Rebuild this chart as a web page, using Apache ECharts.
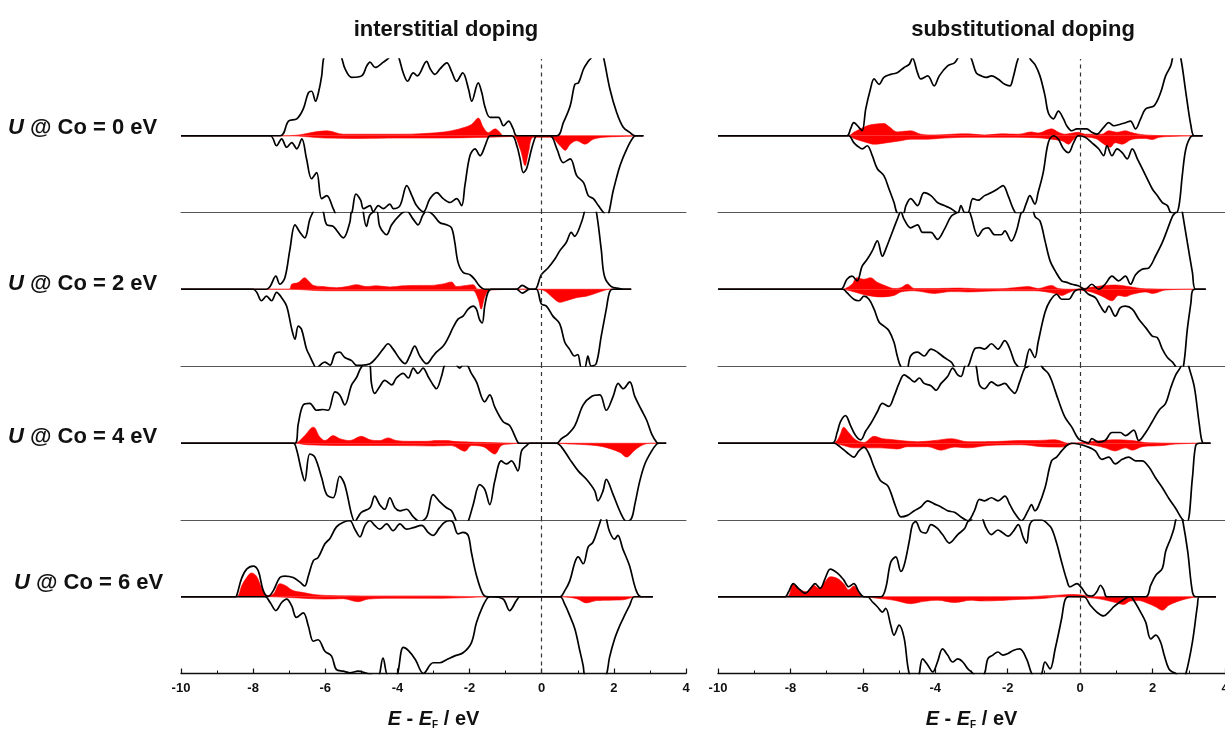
<!DOCTYPE html>
<html>
<head>
<meta charset="utf-8">
<title>DOS U@Co</title>
<script src="https://cdn.jsdelivr.net/npm/echarts@6/dist/echarts.min.js"></script>
<style>
  html, body { margin: 0; padding: 0; background: #fff; }
  #chart { width: 1225px; height: 735px; }
</style>
</head>
<body>
<div id="chart"></div>
<script>
// panel titles, row labels and x axis
var panelTitles = ['interstitial doping', 'substitutional doping'];
var uValues = ['0', '2', '4', '6'];
var xMin = -10, xMax = 4, xStep = 2;

// ---- interstitial doping: total DOS (up / down) and Co PDOS (up / down), [E, DOS] ----
var int0Up = [[-10,0],[-7.25,0],[-7.02,1.9],[-6.79,2.2],[-6.61,3.5],[-6.47,5.6],[-6.38,5.8],[-6.27,4.5],[-6.19,5.6],[-6.10,7.8],[-6.04,10.2],[-5.8,13],[-5.55,10.2],[-5.45,8.7],[-5.27,7.6],[-4.99,7.8],[-4.85,9.1],[-4.76,9.6],[-4.62,8.9],[-4.39,9.6],[-4.21,10.3],[-4.1,11.5],[-3.97,10.3],[-3.84,8.2],[-3.72,7.1],[-3.56,8.2],[-3.45,7.8],[-3.19,9.7],[-3.10,8.8],[-2.96,8.0],[-2.82,8.7],[-2.63,9.5],[-2.50,8.4],[-2.36,7.1],[-2.19,8.2],[-2.03,6.1],[-1.94,4.5],[-1.76,6.9],[-1.66,5.6],[-1.57,3.7],[-1.43,2.4],[-1.20,2.4],[-1.06,1.3],[-0.92,1.9],[-0.79,0.9],[-0.69,0],[0.42,0],[0.60,1.7],[0.79,3.9],[0.92,6.7],[1.02,6.9],[1.16,8.7],[1.29,9.7],[1.39,10.3],[1.55,13],[1.71,10.3],[1.89,6.1],[2.08,3.0],[2.26,1.1],[2.45,0.4],[2.59,0],[2.82,0]];
var int0Dn = [[-10,0],[-7.53,0],[-7.35,-1.3],[-7.21,-0.4],[-7.07,-1.5],[-6.93,-0.9],[-6.79,-1.7],[-6.65,-0.4],[-6.52,-3.0],[-6.38,-5.6],[-6.24,-4.8],[-6.10,-8.2],[-5.96,-7.8],[-5.78,-9.5],[-5.70,-10.3],[-5.45,-12],[-5.27,-10.2],[-5.15,-7.6],[-5.02,-8.4],[-4.94,-9.5],[-4.76,-9.1],[-4.67,-9.9],[-4.53,-9.1],[-4.39,-9.5],[-4.21,-8.9],[-4.11,-9.5],[-3.93,-9.1],[-3.74,-6.5],[-3.60,-7.8],[-3.47,-9.1],[-3.28,-9.9],[-3.10,-8.2],[-2.91,-7.4],[-2.73,-8.2],[-2.54,-8.7],[-2.36,-8.2],[-2.22,-9.1],[-2.13,-6.5],[-1.99,-2.6],[-1.85,-1.7],[-1.71,-2.6],[-1.57,-1.3],[-1.48,-0.2],[-1.43,0],[-0.83,0],[-0.69,-1.3],[-0.60,-3.0],[-0.51,-4.8],[-0.42,-4.3],[-0.28,-1.7],[-0.18,-0.2],[-0.14,0],[0.23,0],[0.42,-1.7],[0.60,-3.5],[0.79,-3.0],[0.97,-5.2],[1.16,-6.1],[1.29,-7.8],[1.43,-8.2],[1.57,-9.1],[1.71,-10],[1.80,-10.5],[1.99,-7.0],[2.17,-3.9],[2.36,-1.7],[2.54,-0.2],[2.63,0],[2.82,0]];
var int0CoUp = [[-10,0],[-7.0,0],[-5.96,0.65],[-5.5,0.2],[-4.76,0.2],[-3.84,0.2],[-2.91,0.4],[-2.5,0.65],[-2.13,1.1],[-1.94,1.5],[-1.76,2.3],[-1.62,1.1],[-1.48,0.4],[-1.29,0.9],[-1.15,0.4],[-1.06,0],[2.82,0]];
var int0CoDn = [[-10,0],[-7.0,0],[-6.0,-0.3],[-5.0,-0.35],[-4.0,-0.3],[-3.0,-0.3],[-2.0,-0.25],[-1.2,-0.15],[-0.79,-0.1],[-0.6,-1.7],[-0.46,-3.9],[-0.37,-2.2],[-0.23,-0.2],[0.23,-0.2],[0.51,-1.3],[0.65,-1.9],[0.79,-1.1],[0.97,-0.65],[1.2,-1.1],[1.43,-0.45],[1.71,-0.2],[2.17,-0.1],[2.8,0]];

var int2Up = [[-10,0],[-7.63,0],[-7.53,0.35],[-7.37,1.7],[-7.26,0.65],[-7.12,1.5],[-6.98,5.2],[-6.84,8.4],[-6.70,7.4],[-6.57,6.7],[-6.43,9.1],[-6.33,10.2],[-6.2,12],[-6.06,10.2],[-5.96,8.4],[-5.78,8.2],[-5.50,6.7],[-5.32,8.7],[-5.27,10.2],[-5.05,12],[-4.86,8.2],[-4.76,9.7],[-4.58,10.2],[-4.49,8.2],[-4.30,7.1],[-4.16,8.4],[-3.93,9.7],[-3.75,10.2],[-3.56,9.1],[-3.43,8.4],[-3.29,9.7],[-3.19,10.2],[-3.01,9.7],[-2.83,8.7],[-2.64,8.4],[-2.50,8.0],[-2.41,6.1],[-2.32,3.5],[-2.18,2.2],[-1.99,1.9],[-1.86,1.3],[-1.72,0.4],[-1.58,0],[-0.70,0],[-0.54,0.5],[-0.33,0],[-0.19,0],[-0.01,1.9],[0.18,2.8],[0.36,3.9],[0.50,5.0],[0.68,6.1],[0.82,7.4],[0.91,6.9],[1.10,8.7],[1.19,10.2],[1.35,13],[1.51,10.2],[1.65,5.2],[1.74,1.7],[1.93,0.35],[2.16,0.1],[2.25,0],[2.48,0]];
var int2Dn = [[-10,0],[-8.0,0],[-7.90,-0.4],[-7.77,-1.5],[-7.63,-0.9],[-7.49,-1.5],[-7.35,-0.4],[-7.21,-1.1],[-7.07,-2.2],[-6.93,-5.2],[-6.84,-6.5],[-6.75,-4.8],[-6.66,-5.2],[-6.52,-7.8],[-6.43,-8.7],[-6.33,-9.7],[-6.25,-10.3],[-6.10,-9.7],[-6.01,-9.5],[-5.87,-9.9],[-5.73,-8.4],[-5.60,-8.2],[-5.46,-8.9],[-5.27,-9.3],[-5.13,-9.9],[-5.0,-9.9],[-4.76,-9.7],[-4.58,-8.9],[-4.40,-7.8],[-4.26,-7.1],[-4.12,-7.8],[-3.93,-9.1],[-3.79,-9.7],[-3.66,-8.7],[-3.52,-7.4],[-3.38,-8.7],[-3.19,-9.7],[-3.01,-8.7],[-2.92,-8.2],[-2.73,-7.4],[-2.59,-6.3],[-2.46,-5.0],[-2.32,-3.9],[-2.18,-3.5],[-2.04,-2.6],[-1.90,-2.2],[-1.81,-2.6],[-1.72,-4.0],[-1.65,-4.4],[-1.58,-2.2],[-1.49,-0.4],[-1.39,0],[-0.70,0],[-0.54,-0.5],[-0.33,0],[-0.15,0],[-0.01,-1.9],[0.13,-2.2],[0.31,-3.5],[0.50,-4.5],[0.64,-6.9],[0.77,-7.8],[0.91,-8.7],[1.00,-8.5],[1.10,-10.2],[1.19,-10.2],[1.28,-8.7],[1.37,-10],[1.51,-9.7],[1.65,-6.1],[1.79,-2.6],[1.88,-0.4],[1.97,0],[2.48,0]];
var int2CoUp = [[-10,0],[-7.0,0],[-6.93,0.65],[-6.75,0.87],[-6.57,1.5],[-6.47,1.1],[-6.33,0.5],[-6.06,0.35],[-5.69,0.2],[-5.41,0.35],[-5.13,0.6],[-4.86,0.35],[-4.58,0.45],[-4.21,0.3],[-3.84,0.45],[-3.47,0.5],[-3.10,0.5],[-2.73,0.7],[-2.50,0.95],[-2.36,0.35],[-2.09,0.5],[-1.90,0.6],[-1.76,0],[2.48,0]];
var int2CoDn = [[-10,0],[-7.0,0],[-6.0,-0.2],[-4.0,-0.2],[-2.0,-0.2],[-1.90,-0.2],[-1.76,-1.3],[-1.68,-2.6],[-1.57,-0.9],[-1.43,-0.1],[-0.2,0],[0.03,-0.1],[0.31,-1.1],[0.50,-1.7],[0.68,-1.5],[0.96,-1.1],[1.24,-0.9],[1.42,-0.65],[1.70,-0.2],[1.88,0],[2.48,0]];

var int4Up = [[-10,0],[-6.84,0],[-6.75,2.5],[-6.61,5.0],[-6.43,5.2],[-6.24,4.3],[-6.06,4.4],[-5.92,4.3],[-5.73,6.7],[-5.60,6.3],[-5.46,5.0],[-5.27,7.6],[-5.13,8.6],[-5.04,9.6],[-4.95,10.3],[-4.85,11.5],[-4.76,10.3],[-4.72,7.8],[-4.63,6.5],[-4.49,7.4],[-4.35,8.2],[-4.16,7.6],[-4.03,8.5],[-3.84,9.1],[-3.70,8.5],[-3.56,9.8],[-3.43,9.1],[-3.29,9.8],[-3.15,8.7],[-3.01,7.6],[-2.92,7.1],[-2.78,8.7],[-2.69,10.2],[-2.5,11.5],[-2.36,10.2],[-2.27,9.8],[-2.18,10.2],[-2.09,10.2],[-1.95,9.1],[-1.81,8.0],[-1.58,5.4],[-1.44,6.3],[-1.30,4.7],[-1.07,2.8],[-0.89,2.3],[-0.66,0.1],[-0.6,0],[0.41,0],[0.55,0.6],[0.73,1.2],[0.92,2.3],[1.15,5.0],[1.38,6.1],[1.61,6.3],[1.79,4.3],[1.98,6.1],[2.12,7.8],[2.26,7.1],[2.44,8.0],[2.58,6.1],[2.77,4.3],[2.91,3.0],[3.05,1.2],[3.19,0.1],[3.25,0],[3.45,0]];
var int4Dn = [[-10,0],[-6.89,0],[-6.80,-0.75],[-6.66,-3.6],[-6.57,-4.9],[-6.43,-1.4],[-6.29,-1.8],[-6.10,-4.5],[-5.96,-6.7],[-5.78,-7.1],[-5.60,-4.3],[-5.46,-5.4],[-5.27,-9.3],[-5.18,-10.2],[-5.09,-9.6],[-5.00,-9.0],[-4.76,-8.4],[-4.63,-6.9],[-4.49,-8.0],[-4.35,-8.6],[-4.21,-7.1],[-4.07,-8.4],[-3.93,-8.8],[-3.75,-8.6],[-3.56,-9.6],[-3.38,-10.2],[-3.19,-9.6],[-3.01,-6.7],[-2.83,-7.6],[-2.64,-8.4],[-2.50,-8.8],[-2.36,-10.2],[-2.2,-11.5],[-2.04,-10.2],[-1.90,-8.0],[-1.72,-5.4],[-1.58,-6.0],[-1.44,-8.0],[-1.30,-4.9],[-1.12,-2.3],[-0.98,-2.7],[-0.84,-2.3],[-0.66,-3.6],[-0.56,-1.0],[-0.42,-0.3],[-0.33,0],[0.41,0],[0.55,-0.5],[0.78,-2.1],[1.01,-3.6],[1.24,-4.7],[1.47,-6.2],[1.56,-7.5],[1.70,-6.2],[1.79,-4.7],[1.98,-6.7],[2.21,-9.3],[2.35,-10.2],[2.49,-9.8],[2.58,-8.0],[2.72,-4.9],[2.86,-2.7],[3.05,-1.0],[3.19,-0.1],[3.25,0],[3.45,0]];
var int4CoUp = [[-10,0],[-6.84,0],[-6.61,0.8],[-6.33,2.1],[-6.15,0.8],[-6.01,0.35],[-5.78,1.0],[-5.60,0.6],[-5.32,0.35],[-5.00,0.9],[-4.76,0.45],[-4.49,0.35],[-4.26,0.7],[-4.03,0.35],[-3.66,0.25],[-3.19,0.25],[-2.92,0.35],[-2.64,0.35],[-2.45,0.25],[-2.0,0.15],[-1.5,0.1],[-0.6,0],[3.45,0]];
var int4CoDn = [[-10,0],[-6.84,0],[-6.5,-0.2],[-5.0,-0.3],[-4.0,-0.3],[-3.0,-0.35],[-2.50,-0.3],[-2.13,-1.05],[-1.95,-0.3],[-1.62,-0.45],[-1.30,-1.4],[-1.12,-0.3],[-0.89,-0.1],[-0.6,0],[0.41,0],[0.78,-0.1],[1.24,-0.2],[1.70,-0.45],[2.17,-1.2],[2.35,-1.8],[2.58,-0.9],[2.81,-0.2],[3.05,0],[3.45,0]];

var int6Up = [[-10,0],[-8.5,0],[-8.46,0.1],[-8.32,2.4],[-8.18,3.6],[-8.00,4.0],[-7.86,3.4],[-7.72,0.8],[-7.58,0.05],[-7.44,0.8],[-7.26,2.5],[-7.12,2.7],[-6.89,2.5],[-6.70,1.9],[-6.57,1.4],[-6.47,2.7],[-6.33,4.7],[-6.20,5.1],[-6.01,6.9],[-5.87,7.6],[-5.69,9.1],[-5.50,9.7],[-5.32,9.9],[-5.18,8.8],[-5.04,7.8],[-4.90,9.3],[-4.76,9.9],[-4.63,9.3],[-4.49,8.8],[-4.30,9.5],[-4.12,8.6],[-3.93,9.5],[-3.75,8.8],[-3.56,9.0],[-3.33,9.3],[-3.15,8.4],[-3.01,8.0],[-2.83,9.0],[-2.69,9.7],[-2.55,9.9],[-2.46,9.7],[-2.32,8.2],[-2.18,8.4],[-2.04,8.0],[-1.95,5.8],[-1.81,2.8],[-1.63,0.35],[-1.49,0],[0.50,0],[0.64,0.8],[0.78,2.1],[0.92,4.5],[1.01,5.2],[1.15,4.3],[1.29,6.5],[1.42,7.1],[1.56,8.9],[1.65,10.2],[1.72,11.5],[1.79,10.2],[1.88,8.5],[2.02,7.5],[2.11,8.0],[2.25,6.2],[2.43,4.1],[2.62,0.8],[2.76,0],[3.08,0]];
var int6Dn = [[-10,0],[-7.67,0],[-7.53,-0.75],[-7.37,-1.8],[-7.21,-0.75],[-7.07,-0.3],[-6.93,-1.2],[-6.80,-2.7],[-6.61,-2.1],[-6.47,-3.8],[-6.33,-5.8],[-6.20,-5.6],[-6.01,-7.1],[-5.83,-7.7],[-5.69,-9.5],[-5.50,-9.7],[-5.32,-9.9],[-5.09,-9.7],[-4.90,-9.9],[-4.72,-10.2],[-4.55,-10.6],[-4.40,-8.0],[-4.25,-10.4],[-4.05,-10.4],[-3.84,-6.6],[-3.70,-7.0],[-3.50,-8.2],[-3.28,-10.0],[-3.01,-8.6],[-2.83,-8.6],[-2.64,-8.2],[-2.41,-7.7],[-2.18,-7.3],[-1.95,-6.0],[-1.81,-3.4],[-1.63,-1.2],[-1.49,-0.1],[-1.4,0],[-1.07,-0.3],[-0.89,-1.8],[-0.70,-0.5],[-0.6,0],[0.50,0],[0.64,-1.0],[0.78,-2.5],[0.92,-4.2],[1.05,-6.9],[1.15,-9.0],[1.19,-10.2],[1.5,-13],[1.79,-10.2],[1.88,-7.9],[2.02,-5.5],[2.16,-3.8],[2.29,-2.5],[2.43,-1.2],[2.57,0],[3.08,0]];
var int6CoUp = [[-10,0],[-8.5,0],[-8.41,0.15],[-8.32,1.4],[-8.18,2.5],[-8.05,3.1],[-7.91,2.7],[-7.77,1.2],[-7.63,0.15],[-7.44,0.35],[-7.26,1.7],[-7.12,1.5],[-6.89,0.8],[-6.61,0.55],[-6.33,0.3],[-5.87,0.15],[-5.0,0.1],[-3.0,0.1],[-1.6,0],[3.08,0]];
var int6CoDn = [[-10,0],[-7.5,0],[-7.0,-0.1],[-6.0,-0.3],[-5.5,-0.25],[-5.09,-0.65],[-4.8,-0.3],[-4.0,-0.2],[-3.0,-0.2],[-2.0,-0.1],[-1.6,0],[0.5,0],[0.97,-0.25],[1.24,-0.8],[1.52,-0.5],[1.90,-0.45],[2.25,-0.4],[2.43,-0.2],[2.57,0],[3.08,0]];

// ---- substitutional doping ----
var sub0Up = [[-10,0],[-6.44,0],[-6.34,0.9],[-6.25,1.7],[-6.11,1.1],[-6.02,0.65],[-5.92,3.5],[-5.79,6.1],[-5.69,7.4],[-5.55,6.7],[-5.42,7.6],[-5.23,8.0],[-5.05,8.2],[-4.86,8.9],[-4.72,9.3],[-4.63,10.1],[-4.49,8.2],[-4.40,7.4],[-4.21,7.8],[-4.03,6.5],[-3.89,7.8],[-3.66,9.1],[-3.47,9.5],[-3.38,10.1],[-3.2,11.5],[-3.01,10.1],[-2.87,8.2],[-2.73,7.8],[-2.59,7.6],[-2.45,7.8],[-2.27,7.4],[-2.08,6.7],[-1.94,6.5],[-1.85,7.6],[-1.71,10.1],[-1.5,12],[-1.39,10.1],[-1.25,9.3],[-1.11,7.8],[-0.97,5.2],[-0.88,3.0],[-0.74,2.2],[-0.60,3.2],[-0.46,2.2],[-0.37,1.3],[-0.23,0.65],[-0.09,0.9],[0.05,0.9],[0.18,0.9],[0.32,0.45],[0.46,0.2],[0.65,1.1],[0.79,1.7],[0.93,1.3],[1.11,1.5],[1.25,1.7],[1.39,1.9],[1.53,0.9],[1.67,2.2],[1.81,3.5],[2.04,3.9],[2.22,5.6],[2.36,7.8],[2.50,9.1],[2.55,10.1],[2.66,12],[2.78,10.1],[2.92,5.6],[3.06,1.3],[3.15,0],[3.38,0]];
var sub0Dn = [[-10,0],[-6.4,0],[-6.25,-0.9],[-6.16,-1.3],[-6.02,-1.7],[-5.88,-1.3],[-5.74,-2.6],[-5.60,-4.3],[-5.42,-5.2],[-5.28,-6.9],[-5.14,-8.7],[-5.05,-10.1],[-4.9,-10.4],[-4.81,-9.1],[-4.68,-8.2],[-4.49,-9.1],[-4.31,-7.4],[-4.12,-7.8],[-3.94,-8.7],[-3.75,-9.1],[-3.56,-9.5],[-3.38,-10.1],[-3.29,-9.1],[-3.19,-10.0],[-3.10,-10.0],[-2.96,-8.2],[-2.82,-8.4],[-2.64,-7.8],[-2.45,-7.4],[-2.27,-6.9],[-2.13,-6.5],[-1.99,-7.8],[-1.85,-9.5],[-1.76,-10.1],[-1.62,-10.1],[-1.48,-8.7],[-1.39,-7.8],[-1.25,-8.9],[-1.16,-7.4],[-1.02,-4.8],[-0.88,-0.9],[-0.74,0],[-0.60,-0.45],[-0.46,-1.7],[-0.32,-2.2],[-0.18,-0.9],[-0.05,0],[0.14,-0.2],[0.32,-0.9],[0.51,-1.7],[0.65,-2.6],[0.74,-1.3],[0.88,-2.6],[1.02,-1.7],[1.16,-2.2],[1.30,-3.0],[1.44,-1.7],[1.58,-3.0],[1.81,-5.2],[1.99,-6.9],[2.13,-7.8],[2.27,-8.7],[2.41,-9.1],[2.50,-10.0],[2.64,-10.1],[2.73,-9.1],[2.82,-5.2],[2.92,-1.7],[3.06,-0.1],[3.15,0],[3.38,0]];
var sub0CoUp = [[-10,0],[-6.4,0],[-6.25,0.45],[-6.06,0.9],[-5.88,1.3],[-5.69,1.5],[-5.42,1.6],[-5.28,1.2],[-5.05,0.5],[-4.68,0.65],[-4.40,0.2],[-4.03,0.1],[-3.56,0.2],[-3.10,0.25],[-2.64,0.1],[-2.18,0.25],[-1.71,0.2],[-1.34,0.5],[-1.16,0.35],[-0.79,0.9],[-0.60,0.45],[-0.42,0.2],[-0.05,0.45],[0.14,0.2],[0.60,0.2],[0.79,0.65],[1.02,0.45],[1.25,0.65],[1.39,0.45],[1.62,0.2],[2.0,0.05],[3.15,0],[3.38,0]];
var sub0CoDn = [[-10,0],[-6.4,0],[-6.25,-0.35],[-5.88,-0.9],[-5.69,-1.1],[-5.32,-0.9],[-4.95,-0.65],[-4.68,-0.45],[-4.21,-0.45],[-3.75,-0.3],[-3.10,-0.2],[-2.18,-0.2],[-1.25,-0.25],[-0.51,-0.65],[-0.32,-1.1],[-0.18,-0.45],[-0.05,-0.1],[0.42,-0.35],[0.60,-0.9],[0.83,-1.5],[0.97,-0.9],[1.16,-1.1],[1.44,-0.45],[1.81,-0.35],[1.99,-0.5],[2.18,-0.2],[2.45,-0.1],[3.15,0],[3.38,0]];

var sub2Up = [[-10,0],[-6.62,0],[-6.44,1.3],[-6.30,1.7],[-6.16,1.1],[-6.02,3.0],[-5.88,3.9],[-5.74,5.0],[-5.60,6.3],[-5.46,4.3],[-5.37,5.2],[-5.23,6.9],[-5.05,9.1],[-4.95,10.1],[-4.86,9.1],[-4.68,8.0],[-4.49,8.4],[-4.35,7.4],[-4.12,7.4],[-3.94,6.5],[-3.75,7.8],[-3.56,9.5],[-3.38,10.1],[-3.2,12],[-3.01,9.5],[-2.82,6.9],[-2.68,7.8],[-2.54,8.0],[-2.36,7.1],[-2.18,7.1],[-2.08,7.6],[-1.90,6.3],[-1.76,7.6],[-1.62,10.1],[-1.4,12],[-1.25,9.5],[-1.11,8.9],[-0.97,6.3],[-0.83,3.7],[-0.69,2.4],[-0.51,1.1],[-0.37,0.9],[-0.23,0.65],[-0.05,0.45],[0.14,0],[0.32,0.65],[0.51,0],[0.69,0.65],[0.88,1.7],[1.06,1.1],[1.25,1.7],[1.39,0.65],[1.53,1.9],[1.71,2.6],[1.90,2.8],[2.08,4.3],[2.27,6.1],[2.41,7.8],[2.55,9.5],[2.64,10.1],[2.75,12],[2.82,10.1],[2.96,6.1],[3.10,2.2],[3.19,0],[3.47,0]];
var sub2Dn = [[-10,0],[-6.55,0],[-6.44,-0.45],[-6.25,-1.3],[-6.11,-1.5],[-5.97,-0.9],[-5.83,-1.3],[-5.69,-2.6],[-5.55,-4.3],[-5.42,-4.8],[-5.28,-5.4],[-5.14,-6.9],[-5.05,-8.7],[-4.95,-10.1],[-4.8,-10.6],[-4.68,-8.7],[-4.49,-8.2],[-4.31,-8.7],[-4.12,-7.8],[-3.94,-8.2],[-3.75,-8.9],[-3.56,-9.5],[-3.47,-10.1],[-3.3,-10.8],[-3.1,-10.1],[-2.92,-7.8],[-2.78,-7.6],[-2.64,-7.8],[-2.45,-7.1],[-2.27,-7.8],[-2.08,-6.7],[-1.94,-7.8],[-1.81,-9.5],[-1.71,-10.1],[-1.6,-10.6],[-1.53,-10.1],[-1.39,-7.8],[-1.25,-8.9],[-1.16,-6.9],[-0.97,-3.0],[-0.83,-1.5],[-0.65,-0.65],[-0.51,-1.3],[-0.32,-1.3],[-0.14,-0.2],[0.05,0],[0.23,-0.65],[0.42,-1.1],[0.56,-2.2],[0.69,-3.0],[0.79,-2.2],[0.97,-3.5],[1.11,-2.4],[1.25,-2.2],[1.44,-2.6],[1.62,-3.9],[1.81,-5.0],[1.99,-6.1],[2.13,-6.3],[2.27,-7.8],[2.41,-8.9],[2.55,-9.5],[2.64,-10.1],[2.75,-10.8],[2.85,-10.1],[2.96,-5.2],[3.06,-1.7],[3.10,-0.2],[3.19,0],[3.47,0]];
var sub2CoUp = [[-10,0],[-6.6,0],[-6.48,0.1],[-6.30,0.65],[-6.16,1.5],[-5.97,1.3],[-5.79,1.5],[-5.60,0.9],[-5.32,0.35],[-5.14,0.1],[-4.95,0.2],[-4.77,0.65],[-4.58,0.1],[-4.31,0.1],[-3.94,0.1],[-3.38,0.15],[-3.01,0.1],[-2.73,0.05],[-2.27,0.05],[-1.81,0.2],[-1.44,0.35],[-1.16,0.1],[-0.79,0.5],[-0.60,0.1],[-0.2,0],[0.6,0.45],[0.97,0.55],[1.34,0.35],[1.8,0.05],[3.19,0],[3.47,0]];
var sub2CoDn = [[-10,0],[-6.6,0],[-6.16,-0.45],[-5.88,-0.8],[-5.51,-1.0],[-5.14,-0.8],[-4.95,-0.35],[-4.58,-0.2],[-4.03,-0.55],[-3.56,-0.3],[-3.1,-0.35],[-2.18,-0.2],[-1.25,-0.2],[-0.69,-0.55],[-0.51,-0.8],[-0.32,-0.45],[-0.1,-0.1],[0.3,-0.35],[0.60,-0.9],[0.88,-1.5],[1.06,-0.8],[1.25,-0.95],[1.44,-0.65],[1.81,-0.35],[2.0,-0.55],[2.36,-0.1],[3.19,0],[3.47,0]];

var sub4Up = [[-10,0],[-6.85,0],[-6.71,1.4],[-6.62,2.8],[-6.48,3.6],[-6.34,2.3],[-6.20,1.0],[-6.06,0.45],[-5.92,1.6],[-5.79,2.5],[-5.60,4.1],[-5.46,5.2],[-5.28,4.8],[-5.14,6.1],[-5.00,7.8],[-4.86,8.9],[-4.72,8.5],[-4.58,8.0],[-4.44,8.5],[-4.31,7.8],[-4.12,7.5],[-3.98,6.9],[-3.84,7.8],[-3.66,8.7],[-3.52,9.8],[-3.38,8.9],[-3.29,8.7],[-3.19,10.0],[-3.0,12],[-2.87,10.0],[-2.78,7.6],[-2.64,7.1],[-2.45,8.0],[-2.27,7.5],[-2.08,7.8],[-1.94,7.1],[-1.81,6.5],[-1.67,8.0],[-1.53,9.8],[-1.44,10.0],[-1.2,12],[-1.06,10.0],[-0.88,9.1],[-0.79,8.2],[-0.60,5.6],[-0.42,3.4],[-0.23,2.1],[-0.05,0.6],[0.14,0.15],[0.23,0],[0.32,0.6],[0.51,0.15],[0.69,0.35],[0.88,1.4],[1.11,1.4],[1.25,1.0],[1.48,1.7],[1.62,0.35],[1.81,1.4],[1.99,2.8],[2.18,4.3],[2.36,5.2],[2.50,7.2],[2.64,8.9],[2.78,10.0],[2.9,12],[3.00,10.0],[3.15,7.4],[3.29,2.5],[3.38,0.1],[3.47,0],[3.6,0]];
var sub4Dn = [[-10,0],[-6.8,0],[-6.62,-0.5],[-6.44,-1.2],[-6.25,-1.8],[-6.11,-1.0],[-5.97,-0.5],[-5.83,-1.4],[-5.69,-3.1],[-5.51,-4.9],[-5.32,-5.5],[-5.23,-6.4],[-5.09,-8.3],[-4.95,-9.6],[-4.77,-9.4],[-4.58,-8.8],[-4.40,-8.3],[-4.21,-7.5],[-4.03,-7.9],[-3.84,-8.3],[-3.66,-8.8],[-3.47,-9.0],[-3.29,-9.6],[-3.10,-10.1],[-2.92,-8.8],[-2.78,-7.3],[-2.64,-7.5],[-2.45,-7.1],[-2.27,-7.5],[-2.08,-6.9],[-1.94,-8.0],[-1.81,-9.1],[-1.62,-10.1],[-1.44,-8.8],[-1.34,-8.0],[-1.25,-8.8],[-1.16,-8.3],[-0.97,-5.8],[-0.79,-2.3],[-0.65,-1.8],[-0.51,-1.0],[-0.37,-0.3],[-0.23,0],[-0.05,-0.1],[0.23,-0.5],[0.42,-1.0],[0.60,-2.1],[0.79,-1.8],[0.97,-2.7],[1.16,-2.1],[1.34,-1.8],[1.53,-2.3],[1.71,-2.3],[1.90,-3.1],[2.08,-4.5],[2.27,-5.8],[2.45,-7.2],[2.64,-8.5],[2.82,-9.9],[2.95,-10.3],[3.10,-4.5],[3.19,-0.3],[3.3,0],[3.6,0]];
var sub4CoUp = [[-10,0],[-6.85,0],[-6.71,0.35],[-6.62,1.2],[-6.53,2.1],[-6.39,1.4],[-6.20,0.45],[-5.97,0.1],[-5.69,0.9],[-5.46,0.6],[-5.23,0.5],[-4.95,0.35],[-4.49,0.2],[-4.03,0.35],[-3.56,0.6],[-3.10,0.2],[-2.64,0.2],[-2.18,0.25],[-1.62,0.35],[-1.25,0.35],[-0.69,0.45],[-0.32,0],[0.60,0.35],[0.97,0.45],[1.44,0.35],[1.9,0.05],[3.38,0],[3.6,0]];
var sub4CoDn = [[-10,0],[-6.85,0],[-6.53,-0.3],[-6.25,-0.6],[-5.88,-0.6],[-5.51,-0.6],[-5.05,-0.75],[-4.77,-0.45],[-4.21,-0.45],[-3.84,-0.9],[-3.47,-0.5],[-3.10,-0.6],[-2.55,-0.3],[-1.62,-0.2],[-1.06,-0.45],[-0.51,-0.5],[-0.32,-0.2],[-0.1,0],[0.42,-0.3],[0.69,-0.6],[0.97,-1.0],[1.25,-0.6],[1.44,-0.9],[1.71,-0.45],[2.27,-0.3],[2.64,-0.1],[3.38,0],[3.6,0]];

var sub6Up = [[-10,0],[-8.15,0],[-8.05,0.65],[-7.92,1.7],[-7.78,1.1],[-7.59,0.45],[-7.41,1.3],[-7.32,1.7],[-7.18,1.1],[-7.04,2.4],[-6.90,3.6],[-6.71,3.1],[-6.53,2.2],[-6.39,1.3],[-6.25,1.7],[-6.11,0.65],[-5.97,0],[-5.5,0],[-5.37,1.1],[-5.23,4.5],[-5.09,5.2],[-4.95,3.3],[-4.86,4.1],[-4.72,7.2],[-4.63,9.4],[-4.54,9.8],[-4.40,8.5],[-4.26,8.3],[-4.12,9.4],[-3.94,8.9],[-3.80,8.1],[-3.61,7.0],[-3.38,8.1],[-3.19,8.9],[-3.10,9.8],[-3.01,10.0],[-2.8,11.5],[-2.68,10.0],[-2.59,8.9],[-2.45,8.1],[-2.27,8.7],[-2.13,8.3],[-1.99,7.9],[-1.85,8.5],[-1.71,9.4],[-1.57,7.7],[-1.48,7.0],[-1.39,9.4],[-1.25,10.0],[-1.06,10.0],[-0.92,9.6],[-0.79,8.9],[-0.65,7.0],[-0.51,4.5],[-0.37,2.2],[-0.28,1.3],[-0.09,1.7],[0.05,1.1],[0.19,0.2],[0.32,0.1],[0.46,0.65],[0.56,1.5],[0.65,0.9],[0.74,0],[1.81,0],[1.95,1.5],[2.09,2.8],[2.27,3.7],[2.36,5.9],[2.50,7.6],[2.59,8.9],[2.64,10.0],[2.75,11.5],[2.83,10.0],[2.97,5.9],[3.10,0.65],[3.19,0],[3.75,0]];
var sub6Dn = [[-10,0],[-5.88,0],[-5.74,-0.65],[-5.60,-1.3],[-5.46,-2.0],[-5.37,-1.5],[-5.23,-3.7],[-5.14,-5.0],[-5.00,-3.7],[-4.86,-5.4],[-4.72,-10.0],[-4.5,-12],[-4.44,-10.0],[-4.35,-8.1],[-4.21,-8.9],[-4.07,-9.8],[-3.94,-8.5],[-3.80,-6.8],[-3.66,-7.6],[-3.52,-8.5],[-3.38,-8.1],[-3.24,-8.5],[-3.10,-9.4],[-2.96,-10.0],[-2.8,-11],[-2.64,-10.0],[-2.55,-8.1],[-2.41,-7.6],[-2.27,-7.2],[-2.13,-7.6],[-1.99,-7.4],[-1.85,-7.0],[-1.67,-6.8],[-1.48,-8.1],[-1.34,-10.0],[-1.2,-11],[-1.06,-10.0],[-0.97,-8.5],[-0.83,-9.4],[-0.69,-6.8],[-0.51,-2.8],[-0.42,-0.45],[-0.32,0],[0.1,0],[0.28,-1.1],[0.46,-2.0],[0.65,-2.5],[0.79,-2.0],[0.93,-1.3],[1.11,-0.65],[1.30,-0.1],[1.39,0],[1.48,-0.45],[1.67,-2.0],[1.81,-3.3],[1.95,-5.5],[2.09,-5.0],[2.22,-5.9],[2.32,-7.6],[2.45,-9.4],[2.55,-9.8],[2.64,-10.0],[2.8,-11],[2.92,-10.0],[3.10,-5.9],[3.24,-1.1],[3.29,0],[3.75,0]];
var sub6CoUp = [[-10,0],[-8.1,0],[-7.92,1.7],[-7.73,0.9],[-7.55,0.65],[-7.36,1.5],[-7.22,1.1],[-7.04,2.0],[-6.90,2.6],[-6.71,2.4],[-6.53,1.7],[-6.39,0.9],[-6.25,1.4],[-6.06,0.2],[-5.97,0],[-1.5,0],[-1.06,0.1],[-0.6,0.2],[-0.2,0.3],[0.1,0.2],[0.3,0],[3.75,0]];
var sub6CoDn = [[-10,0],[-5.97,0],[-5.6,-0.2],[-5.14,-0.45],[-4.68,-0.9],[-4.31,-0.6],[-3.94,-0.45],[-3.47,-0.75],[-3.01,-0.45],[-2.73,-0.55],[-2.27,-0.5],[-1.71,-0.35],[-1.34,-0.3],[-0.97,-0.2],[-0.5,0],[0.42,-0.2],[0.97,-0.75],[1.20,-1.0],[1.39,-0.55],[1.62,-0.5],[1.81,-0.75],[2.08,-1.3],[2.27,-1.75],[2.45,-1.1],[2.73,-0.55],[3.0,-0.2],[3.3,0],[3.75,0]];

var panels = [
  [[int0Up, int0Dn, int0CoUp, int0CoDn], [int2Up, int2Dn, int2CoUp, int2CoDn], [int4Up, int4Dn, int4CoUp, int4CoDn], [int6Up, int6Dn, int6CoUp, int6CoDn]],
  [[sub0Up, sub0Dn, sub0CoUp, sub0CoDn], [sub2Up, sub2Dn, sub2CoUp, sub2CoDn], [sub4Up, sub4Dn, sub4CoUp, sub4CoDn], [sub6Up, sub6Dn, sub6CoUp, sub6CoDn]]
];

var chart = echarts.init(document.getElementById('chart'));
var font = '"Liberation Sans", Arial, sans-serif';

var colLeft = [181, 718];
var colWidth = [505, 507];
var rowTop = [59, 212.5, 366.5, 520];
var rowH = 153.5;

var grids = [], xAxes = [], yAxes = [], series = [];

for (var c = 0; c < 2; c++) {
  for (var r = 0; r < 4; r++) {
    var idx = grids.length;
    var last = (r == 3);
    grids.push({ left: colLeft[c], top: rowTop[r], width: colWidth[c], height: rowH, containLabel: false, outerBoundsMode: 'none' });
    xAxes.push({
      gridIndex: idx, type: 'value', min: xMin, max: xMax, interval: xStep,
      axisLine: { show: true, onZero: false, lineStyle: { color: last ? '#111' : '#555', width: last ? 1.4 : 1 } },
      axisTick: { show: last, inside: true, length: 5, lineStyle: { color: '#111', width: 1.2 } },
      minorTick: { show: last, splitNumber: 2, length: 3, lineStyle: { color: '#111' } },
      axisLabel: { show: last, color: '#111', fontSize: 13, fontWeight: 'bold', fontFamily: font, margin: 8 },
      splitLine: { show: false },
      name: last ? '{e|E} - {e|E}{f|F} / eV' : '',
      nameLocation: 'middle', nameGap: 34,
      nameTextStyle: {
        color: '#111', fontSize: 20, fontWeight: 'bold', fontFamily: font,
        rich: {
          e: { fontStyle: 'italic', fontWeight: 'bold', fontSize: 20, fontFamily: font, color: '#111' },
          f: { fontWeight: 'bold', fontSize: 10, fontFamily: font, color: '#111', padding: [13, 0, 0, 0] }
        }
      }
    });
    yAxes.push({ gridIndex: idx, type: 'value', min: -10, max: 10, show: false });

    var d = panels[c][r];
    // Co PDOS, red filled
    [d[2], d[3]].forEach(function (arr) {
      series.push({
        type: 'line', xAxisIndex: idx, yAxisIndex: idx, data: arr,
        showSymbol: false, symbol: 'none', smooth: 0.35, z: 2,
        lineStyle: { color: '#ff0000', width: 0.6 },
        areaStyle: { color: '#ff0000', opacity: 1 }
      });
    });
    // total DOS, black
    [d[0], d[1]].forEach(function (arr, k) {
      var s = {
        type: 'line', xAxisIndex: idx, yAxisIndex: idx, data: arr,
        showSymbol: false, symbol: 'none', smooth: 0.35, z: 3,
        lineStyle: { color: '#000', width: 1.7 }
      };
      if (k == 0) {
        s.markLine = {
          silent: true, symbol: 'none', label: { show: false },
          lineStyle: { color: '#333', type: [4, 4], width: 1.2 },
          data: [{ xAxis: 0 }]
        };
      }
      series.push(s);
    });
  }
}

var labelY = [130, 286, 439, 585];
var labelX = [8, 8, 8, 14];
var graphics = [];
for (var i = 0; i < 4; i++) {
  graphics.push({
    type: 'text', left: labelX[i], top: labelY[i] - 13,
    style: {
      text: '{u|U} @ Co = ' + uValues[i] + ' eV',
      fill: '#111', fontSize: 22, fontWeight: 'bold', fontFamily: font,
      rich: { u: { fontStyle: 'italic', fontWeight: 'bold', fontSize: 22, fontFamily: font, fill: '#111' } }
    }
  });
}

chart.setOption({
  backgroundColor: '#fff',
  animation: false,
  title: [
    { text: panelTitles[0], left: 441, top: 14, textAlign: 'center', textStyle: { fontSize: 22, fontWeight: 'bold', fontFamily: font, color: '#111' } },
    { text: panelTitles[1], left: 1018, top: 14, textAlign: 'center', textStyle: { fontSize: 22, fontWeight: 'bold', fontFamily: font, color: '#111' } }
  ],
  grid: grids,
  xAxis: xAxes,
  yAxis: yAxes,
  graphic: graphics,
  series: series
});
</script>
</body>
</html>
